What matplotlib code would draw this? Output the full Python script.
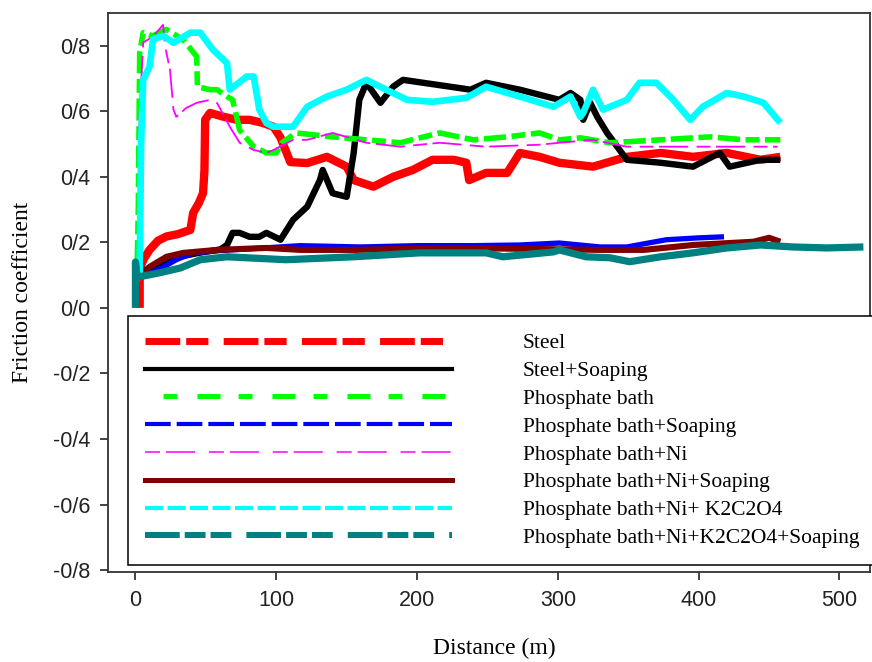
import matplotlib
matplotlib.use("Agg")
import matplotlib.pyplot as plt
from matplotlib.lines import Line2D

plt.rcParams['lines.scale_dashes'] = False

# ---------------- data ----------------
steel_x = [3, 3, 6, 10, 16, 22, 30, 39, 41, 45, 48, 49, 49.5, 53, 62, 72, 81, 90, 98, 103, 110,
           122, 136, 150, 155, 169, 183, 197, 211, 226, 235, 237, 249, 264, 273, 287, 301, 325,
           349, 373, 396, 420, 444, 458]
steel_y = [0.0, 0.12, 0.15, 0.177, 0.205, 0.218, 0.225, 0.238, 0.29, 0.32, 0.35, 0.42, 0.574,
           0.595, 0.584, 0.574, 0.574, 0.565, 0.553, 0.52, 0.445, 0.442, 0.461, 0.431, 0.39, 0.37,
           0.40, 0.421, 0.452, 0.452, 0.443, 0.39, 0.412, 0.412, 0.473, 0.461, 0.443, 0.431, 0.461,
           0.473, 0.461, 0.473, 0.452, 0.461]

steel_soap_x = [0, 5, 15, 30, 45, 60, 65, 69, 74, 81, 88, 93, 103, 112, 122, 131, 133, 140, 150,
                155, 159, 164, 174, 183, 190, 214, 238, 249, 273, 301, 309, 316, 318, 323, 328,
                335, 349, 373, 396, 415, 422, 444, 458]
steel_soap_y = [0.1, 0.11, 0.13, 0.155, 0.168, 0.178, 0.192, 0.229, 0.229, 0.217, 0.217, 0.229,
                0.208, 0.269, 0.309, 0.39, 0.421, 0.35, 0.339, 0.473, 0.635, 0.687, 0.626, 0.675,
                0.696, 0.681, 0.666, 0.687, 0.666, 0.635, 0.656, 0.635, 0.574, 0.626, 0.583, 0.534,
                0.452, 0.443, 0.431, 0.473, 0.431, 0.452, 0.452]

phos_x = [1, 2, 3, 5.5, 12, 22, 34, 43.5, 44, 53, 58, 65, 69, 74, 84, 93, 100, 104, 114, 140, 164,
          188, 216, 240, 264, 287, 301, 316, 337, 373, 408, 432, 458]
phos_y = [0.08, 0.3, 0.78, 0.84, 0.83, 0.85, 0.818, 0.767, 0.675, 0.666, 0.666, 0.645, 0.635,
          0.543, 0.492, 0.473, 0.473, 0.504, 0.534, 0.522, 0.513, 0.504, 0.534, 0.513, 0.522,
          0.534, 0.513, 0.519, 0.504, 0.513, 0.522, 0.513, 0.513]

phos_soap_x = [0, 3, 10, 20, 29, 41, 60, 80, 117, 160, 200, 240, 273, 301, 330, 349, 377, 401, 418]
phos_soap_y = [0.1, 0.1, 0.105, 0.125, 0.147, 0.168, 0.175, 0.18, 0.19, 0.186, 0.19, 0.19, 0.192,
               0.198, 0.186, 0.186, 0.208, 0.214, 0.217]

ni_x = [2, 3, 5.5, 12.5, 19.6, 21, 24.5, 27, 29, 36, 43.5, 53, 58, 67, 74, 84, 93, 98, 112, 122,
        140, 164, 188, 216, 249, 287, 301, 325, 349, 385, 420, 456]
ni_y = [0.1, 0.6, 0.81, 0.828, 0.864, 0.80, 0.727, 0.605, 0.583, 0.61, 0.626, 0.635, 0.625, 0.553,
        0.504, 0.482, 0.473, 0.482, 0.513, 0.513, 0.534, 0.504, 0.492, 0.504, 0.492, 0.498, 0.504,
        0.513, 0.492, 0.492, 0.492, 0.492]

ni_soap_x = [0, 3, 10, 22, 34, 58, 93, 117, 155, 226, 280, 330, 361, 396, 439, 450, 458]
ni_soap_y = [0.1, 0.1, 0.125, 0.156, 0.168, 0.177, 0.183, 0.177, 0.177, 0.183, 0.18, 0.177, 0.177,
             0.192, 0.202, 0.214, 0.202]

k_x = [3, 4, 5.5, 10, 12.5, 20, 27, 39, 46, 55, 65, 67, 79, 84, 88, 93, 98, 104, 112, 122, 136,
       150, 164, 178, 193, 211, 235, 249, 273, 297, 309, 316, 318, 325, 332, 349, 358, 370, 382,
       394, 403, 420, 432, 446, 458]
k_y = [0.1, 0.5, 0.696, 0.736, 0.82, 0.83, 0.809, 0.84, 0.84, 0.788, 0.747, 0.666, 0.706, 0.706,
       0.605, 0.564, 0.553, 0.553, 0.553, 0.614, 0.645, 0.666, 0.696, 0.666, 0.635, 0.629, 0.641,
       0.675, 0.645, 0.614, 0.645, 0.583, 0.595, 0.666, 0.605, 0.635, 0.687, 0.687, 0.635, 0.574,
       0.614, 0.656, 0.645, 0.626, 0.565]

k_soap_x = [0, 0, 1, 3, 17, 32, 46, 65, 107, 155, 202, 249, 261, 297, 301, 320, 337, 351, 373, 396,
            420, 444, 467, 491, 517]
k_soap_y = [0.0, 0.14, 0.1, 0.095, 0.107, 0.122, 0.147, 0.156, 0.147, 0.156, 0.168, 0.168, 0.156,
            0.171, 0.177, 0.156, 0.153, 0.141, 0.156, 0.168, 0.183, 0.192, 0.186, 0.183, 0.186]

labels = ["Steel", "Steel+Soaping", "Phosphate bath", "Phosphate bath+Soaping",
          "Phosphate bath+Ni", "Phosphate bath+Ni+Soaping", "Phosphate bath+Ni+ K2C2O4",
          "Phosphate bath+Ni+K2C2O4+Soaping"]

x_ticks = [0, 100, 200, 300, 400, 500]
y_ticks = [-0.8, -0.6, -0.4, -0.2, 0.0, 0.2, 0.4, 0.6, 0.8]
y_tick_labels = ["-0/8", "-0/6", "-0/4", "-0/2", "0/0", "0/2", "0/4", "0/6", "0/8"]

# ---------------- styles ----------------
colors = ["#ff0000", "#000000", "#00ff00", "#0000ff", "#ff00ff", "#800000", "#00ffff", "#008080"]
plot_lw = [6.0, 4.6, 4.0, 3.8, 1.3, 4.4, 4.8, 5.2]
plot_ls = ['-', '-', (0, (10, 4, 16, 4)), '-', (0, (10, 4, 21, 6)), '-', '-', '-']
leg_lw = [5.0, 3.0, 3.6, 3.0, 1.1, 3.6, 3.0, 4.3]
leg_ls = [(0, (25, 4.3, 16, 11)), '-', (41, (10, 14.4, 16.6, 13)), (0, (18.5, 4.3)),
          (0, (10.8, 4.3, 20.9, 10)), '-', (0, (13, 3.2)),
          (0, (25, 3.6, 15, 3.6, 15, 10.8))]

series = [(steel_x, steel_y), (steel_soap_x, steel_soap_y), (phos_x, phos_y),
          (phos_soap_x, phos_soap_y), (ni_x, ni_y), (ni_soap_x, ni_soap_y),
          (k_x, k_y), (k_soap_x, k_soap_y)]

fig = plt.figure(figsize=(8.72, 6.62), dpi=100)
ax = fig.add_axes([108 / 872, 1 - 572 / 662, 762 / 872, 559 / 662])

for (xs, ys), c, lw, ls in zip(series, colors, plot_lw, plot_ls):
    ax.plot(xs, ys, color=c, lw=lw, linestyle=ls, solid_capstyle='butt',
            solid_joinstyle='round')

ax.set_xlim(-19.5, 521.7)
ax.set_ylim(-0.806, 0.90)
ax.set_xticks(x_ticks)
ax.set_xticklabels([str(t) for t in x_ticks])
ax.set_yticks(y_ticks)
ax.set_yticklabels(y_tick_labels)
for lab in ax.get_xticklabels() + ax.get_yticklabels():
    lab.set_fontfamily('Liberation Sans')
    lab.set_fontsize(15.5)
ax.tick_params(direction='out', length=6, width=1.2, pad=7, colors='#222222')
for sp in ax.spines.values():
    sp.set_color('#333333')
    sp.set_linewidth(1.3)

ax.set_xlabel("Distance (m)", fontfamily='Liberation Serif', fontsize=17)
ax.set_ylabel("Friction coefficient", fontfamily='Liberation Serif', fontsize=17)
ax.xaxis.set_label_coords(0.5066, -0.118)
ax.yaxis.set_label_coords(-0.098, 0.5)

handles = [Line2D([], [], color=c, lw=lw, linestyle=ls, dash_capstyle='butt')
           for c, lw, ls in zip(colors, leg_lw, leg_ls)]
leg = ax.legend(handles, labels, loc='upper left',
                bbox_to_anchor=(128 / 872, 1 - 316 / 662), bbox_transform=fig.transFigure,
                borderaxespad=0, borderpad=0.8, handlelength=14.25, handletextpad=3.3,
                labelspacing=0.36, fancybox=False, framealpha=1,
                prop={'family': 'Liberation Serif', 'size': 15.5})
leg.get_frame().set_edgecolor('black')
leg.get_frame().set_linewidth(1.1)

fig.savefig("out.png", dpi=100)
